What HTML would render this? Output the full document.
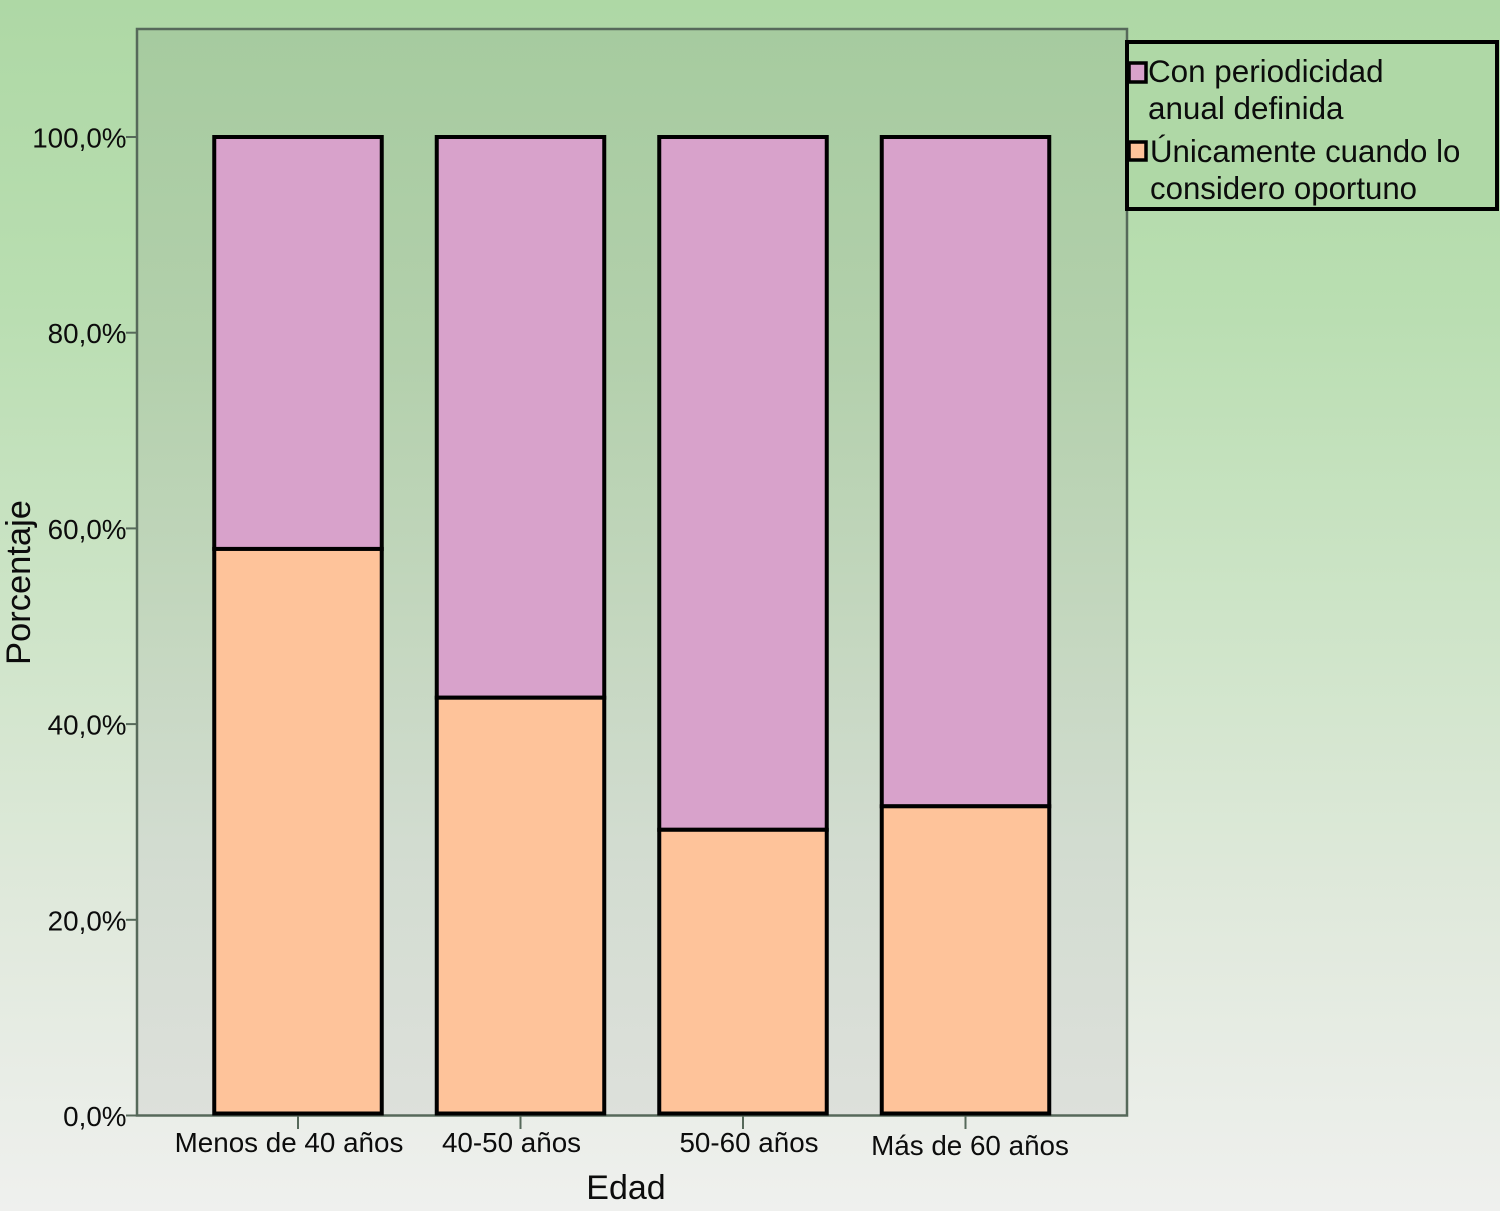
<!DOCTYPE html>
<html lang="es">
<head>
<meta charset="utf-8">
<title>Porcentaje por edad</title>
<style>
html,body{margin:0;padding:0;width:1500px;height:1211px;overflow:hidden;background:#e9ece8}
svg{display:block}
text{font-family:"Liberation Sans",sans-serif;fill:#0c0c0c}
</style>
</head>
<body>
<svg id="chart" xmlns="http://www.w3.org/2000/svg" width="1500" height="1211" viewBox="0 0 1500 1211">
<defs>
<linearGradient id="pageGrad" x1="0" y1="0" x2="0" y2="1">
<stop offset="0" stop-color="#aed8a5"/>
<stop offset="0.25" stop-color="#b9deb1"/>
<stop offset="0.5" stop-color="#cde4c7"/>
<stop offset="0.75" stop-color="#e0e9dc"/>
<stop offset="1" stop-color="#eff0ee"/>
</linearGradient>
<linearGradient id="plotGrad" x1="0" y1="0" x2="0" y2="1">
<stop offset="0" stop-color="#a6cb9f"/>
<stop offset="0.3" stop-color="#b3d0ac"/>
<stop offset="0.55" stop-color="#c4d7bf"/>
<stop offset="0.75" stop-color="#d2dcd0"/>
<stop offset="1" stop-color="#dde0db"/>
</linearGradient>
</defs>
<rect x="0" y="0" width="1500" height="1211" fill="url(#pageGrad)"/>
<rect x="137" y="29" width="990" height="1086.5" fill="url(#plotGrad)" stroke="#56695a" stroke-width="2.5"/>
<g id="yAxis"></g>
<g id="bars"></g>
<g id="xAxis"></g>
<text x="626" y="1199" font-size="34" text-anchor="middle">Edad</text>
<text transform="translate(30 582.5) rotate(-90)" font-size="34.5" text-anchor="middle">Porcentaje</text>
<g>
<rect x="1127" y="42" width="370" height="167" fill="#afd8a6" stroke="#000" stroke-width="4"/>
<rect x="1129" y="63" width="17" height="19" fill="#d8a2cb" stroke="#000" stroke-width="3.5"/>
<text x="1148" y="82" font-size="31.4">Con periodicidad</text>
<text x="1148" y="119" font-size="31.4">anual definida</text>
<rect x="1129" y="142" width="17" height="18" fill="#fec39a" stroke="#000" stroke-width="3.5"/>
<text x="1150" y="162" font-size="31.2">Únicamente cuando lo</text>
<text x="1150" y="199" font-size="31.2">considero oportuno</text>
</g>
</svg>
<script>
const categories = ["Menos de 40 años", "40-50 años", "50-60 años", "Más de 60 años"];
const oportunoValues = [57.9, 42.7, 29.2, 31.6];
const anualValues = [42.1, 57.3, 70.8, 68.4];
const yTickValues = [0, 20, 40, 60, 80, 100];
const yTickLabels = ["0,0%", "20,0%", "40,0%", "60,0%", "80,0%", "100,0%"];

const NS = "http://www.w3.org/2000/svg";
function yScale(v) { return 1115.5 - v * 9.785; }
function xScale(i) { return 298 + i * 222.5; }
const barWidth = 167.5;

function make(tag, attrs, parent) {
  const el = document.createElementNS(NS, tag);
  for (const k in attrs) el.setAttribute(k, attrs[k]);
  parent.appendChild(el);
  return el;
}

const yAxis = document.getElementById("yAxis");
yTickValues.forEach(function (v, i) {
  const tick = make("line", { x1: 126, x2: 137, y1: yScale(v), y2: yScale(v), stroke: "#56695a", "stroke-width": 2 }, yAxis);
  
  
  const label = make("text", { x: 126.5, y: yScale(v) + 10.5, "font-size": 27.8, "text-anchor": "end" }, yAxis);
  
  
  label.textContent = yTickLabels[i];
});

const bars = document.getElementById("bars");
categories.forEach(function (c, i) {
  const base = oportunoValues[i];
  const top = base + anualValues[i];
  const left = xScale(i) - barWidth / 2;
  const upper = make("rect", { x: left, y: yScale(top), width: barWidth, height: yScale(base) - yScale(top), fill: "#d8a2cb", stroke: "#000", "stroke-width": 4 }, bars);
  
  
  const lower = make("rect", { x: left, y: yScale(base), width: barWidth, height: yScale(0) - 2 - yScale(base), fill: "#fec39a", stroke: "#000", "stroke-width": 4 }, bars);
  
  
});

const xAxis = document.getElementById("xAxis");
categories.forEach(function (c, i) {
  const nudgeX = i < 2 ? -9 : (i === 2 ? 6 : 4.5);
  const baseline = i === 3 ? 1155 : 1152;
  const tick = make("line", { x1: xScale(i), x2: xScale(i), y1: 1115.5, y2: 1129, stroke: "#56695a", "stroke-width": 2 }, xAxis);
  
  
  const label = make("text", { x: xScale(i) + nudgeX, y: baseline, "font-size": 27.8, "text-anchor": "middle" }, xAxis);
  
  
  label.textContent = c;
});
</script>
</body>
</html>
